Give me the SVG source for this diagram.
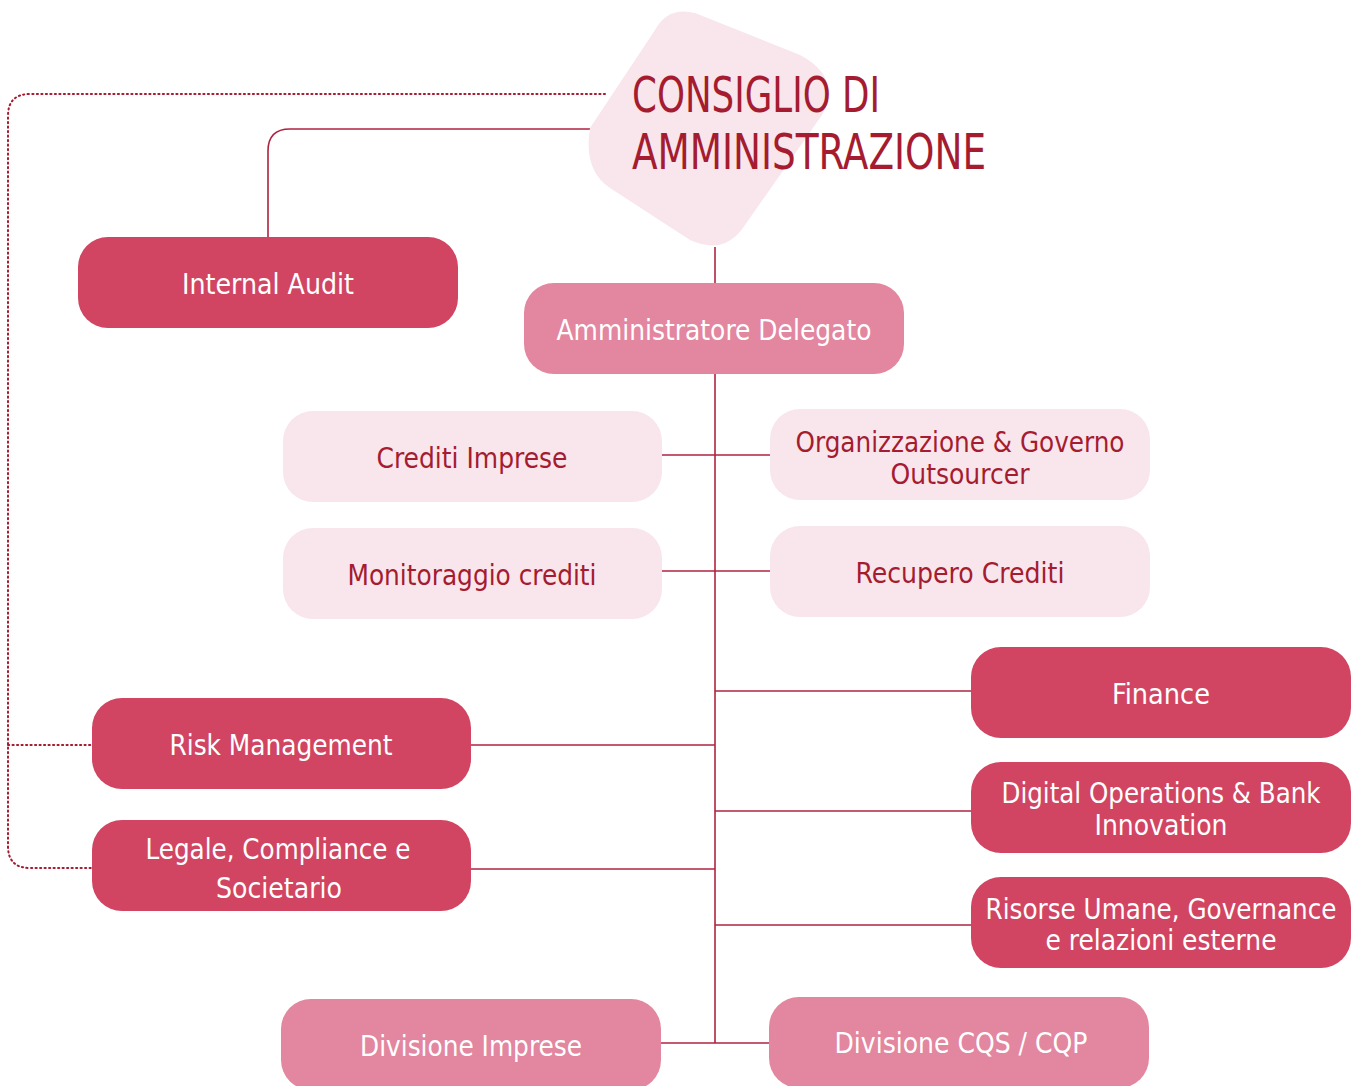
<svg xmlns="http://www.w3.org/2000/svg" width="1357" height="1086" viewBox="0 0 1357 1086">
<style>
.box{stroke:none}
.dark{fill:#d14562}
.mid{fill:#e3869f}
.light{fill:#f8e6ec}
.t{font-family:"DejaVu Sans Condensed","DejaVu Sans","Liberation Sans",sans-serif;font-size:28px;text-anchor:middle}
.w{fill:#ffffff}
.r{fill:#a51c30}
.title{font-family:"DejaVu Sans Condensed","DejaVu Sans","Liberation Sans",sans-serif;font-size:50px;fill:#a51c30}
.ln{fill:none;stroke:#b0233f;stroke-width:1.6}
.dot{fill:none;stroke:#a51c30;stroke-width:2;stroke-dasharray:1.2 3.3;stroke-linecap:round}
</style>
<rect width="1357" height="1086" fill="#ffffff"/>
<g id="connectors">
<path class="dot" d="M605,94 H30 Q8,94 8,116 V846 Q8,868 30,868 H92"/>
<path class="dot" d="M8,745 H92"/>
<path class="ln" d="M590,129 H290 Q268,129 268,151 V237"/>
<path class="ln" d="M715,247 V1043"/>
<path class="ln" d="M662,455 H770"/>
<path class="ln" d="M662,571 H770"/>
<path class="ln" d="M715,691 H971"/>
<path class="ln" d="M471,745 H715"/>
<path class="ln" d="M715,811 H971"/>
<path class="ln" d="M471,869 H715"/>
<path class="ln" d="M715,925 H971"/>
<path class="ln" d="M661,1043 H769"/>
</g>
<g id="consiglio">
<path fill="#f8e6ec" d="M590,128 L655,30 Q668,6 695,13 L800,55 Q842,77 822,115 L745,225 Q725,256 690,240 L610,188 Q583,170 590,128 Z"/>
<text class="title" x="632" y="112" textLength="248" lengthAdjust="spacingAndGlyphs">CONSIGLIO DI</text>
<text class="title" x="632" y="169" textLength="354" lengthAdjust="spacingAndGlyphs">AMMINISTRAZIONE</text>
</g>
<g id="internal-audit">
<rect class="box dark" x="78" y="237" width="380" height="91" rx="30"/>
<text class="t w" x="268" y="294" textLength="172" lengthAdjust="spacingAndGlyphs">Internal Audit</text>
</g>
<g id="amministratore-delegato">
<rect class="box mid" x="524" y="283" width="380" height="91" rx="30"/>
<text class="t w" x="714" y="340" textLength="315" lengthAdjust="spacingAndGlyphs">Amministratore Delegato</text>
</g>
<g id="crediti-imprese">
<rect class="box light" x="283" y="411" width="379" height="91" rx="30"/>
<text class="t r" x="472" y="468" textLength="191" lengthAdjust="spacingAndGlyphs">Crediti Imprese</text>
</g>
<g id="organizzazione">
<rect class="box light" x="770" y="409" width="380" height="91" rx="30"/>
<text class="t r" x="960" y="452" textLength="329" lengthAdjust="spacingAndGlyphs">Organizzazione &amp; Governo</text>
<text class="t r" x="960" y="484" textLength="139" lengthAdjust="spacingAndGlyphs">Outsourcer</text>
</g>
<g id="monitoraggio-crediti">
<rect class="box light" x="283" y="528" width="379" height="91" rx="30"/>
<text class="t r" x="472" y="585" textLength="249" lengthAdjust="spacingAndGlyphs">Monitoraggio crediti</text>
</g>
<g id="recupero-crediti">
<rect class="box light" x="770" y="526" width="380" height="91" rx="30"/>
<text class="t r" x="960" y="583" textLength="209" lengthAdjust="spacingAndGlyphs">Recupero Crediti</text>
</g>
<g id="finance">
<rect class="box dark" x="971" y="647" width="380" height="91" rx="30"/>
<text class="t w" x="1161" y="704" textLength="98" lengthAdjust="spacingAndGlyphs">Finance</text>
</g>
<g id="risk-management">
<rect class="box dark" x="92" y="698" width="379" height="91" rx="30"/>
<text class="t w" x="281" y="755" textLength="223" lengthAdjust="spacingAndGlyphs">Risk Management</text>
</g>
<g id="digital-operations">
<rect class="box dark" x="971" y="762" width="380" height="91" rx="30"/>
<text class="t w" x="1161" y="803" textLength="319" lengthAdjust="spacingAndGlyphs">Digital Operations &amp; Bank</text>
<text class="t w" x="1161" y="835" textLength="133" lengthAdjust="spacingAndGlyphs">Innovation</text>
</g>
<g id="legale">
<rect class="box dark" x="92" y="820" width="379" height="91" rx="30"/>
<text class="t w" x="278" y="859" textLength="265" lengthAdjust="spacingAndGlyphs">Legale, Compliance e</text>
<text class="t w" x="279" y="898" textLength="126" lengthAdjust="spacingAndGlyphs">Societario</text>
</g>
<g id="risorse-umane">
<rect class="box dark" x="971" y="877" width="380" height="91" rx="30"/>
<text class="t w" x="1161" y="919" textLength="351" lengthAdjust="spacingAndGlyphs">Risorse Umane, Governance</text>
<text class="t w" x="1161" y="950" textLength="231" lengthAdjust="spacingAndGlyphs">e relazioni esterne</text>
</g>
<g id="divisione-imprese">
<rect class="box mid" x="281" y="999" width="380" height="91" rx="30"/>
<text class="t w" x="471" y="1056" textLength="222" lengthAdjust="spacingAndGlyphs">Divisione Imprese</text>
</g>
<g id="divisione-cqs">
<rect class="box mid" x="769" y="997" width="380" height="91" rx="30"/>
<text class="t w" x="961" y="1053" textLength="253" lengthAdjust="spacingAndGlyphs">Divisione CQS / CQP</text>
</g>
</svg>
